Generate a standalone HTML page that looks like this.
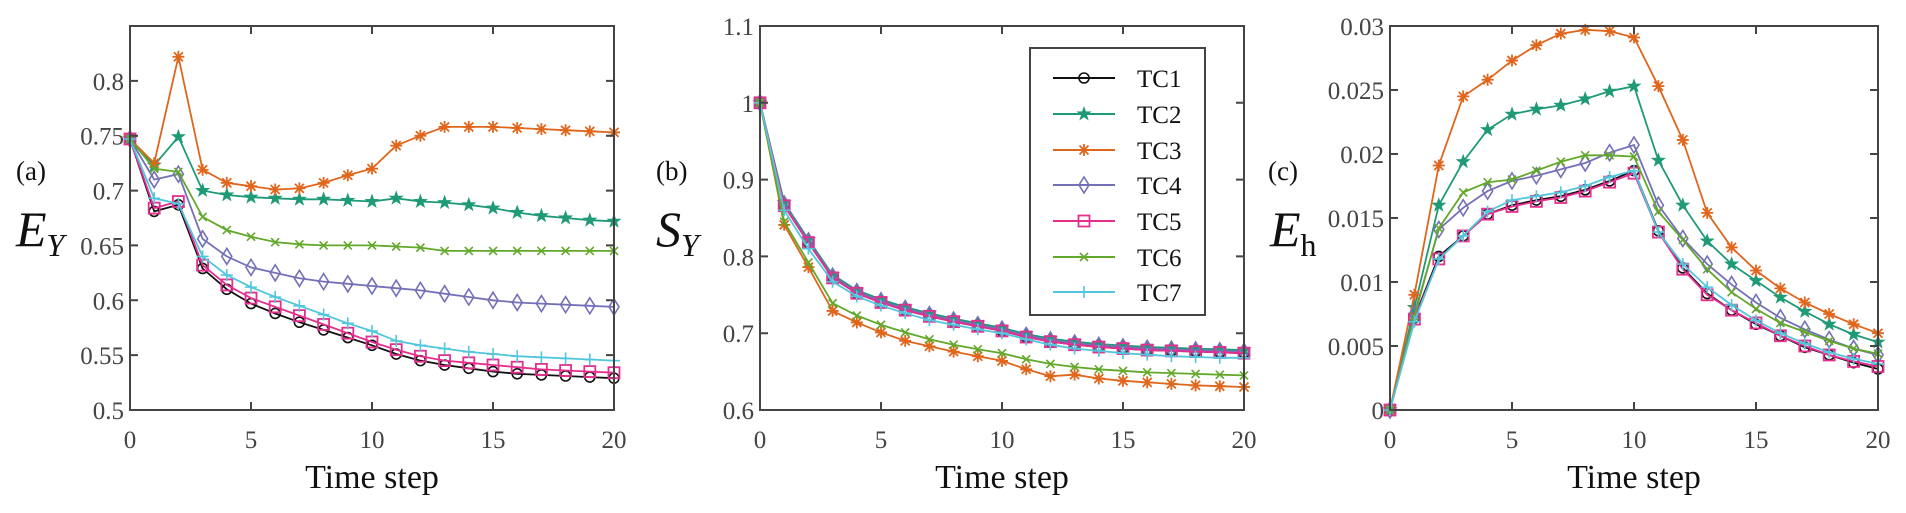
<!DOCTYPE html>
<html><head><meta charset="utf-8"><style>
html,body{margin:0;padding:0;background:#fff;}
svg{display:block;}
text{font-family:"Liberation Serif",serif;}
</style></head><body>
<svg id="s" width="1906" height="513" xmlns="http://www.w3.org/2000/svg"></svg>
<script>
const S=document.getElementById('s');let h='';
const col={1:'#111',2:'#1f9a76',3:'#e0661c',4:'#7470b8',5:'#e52f8f',6:'#62a82a',7:'#52c6dc'};
const panels=[
{x0:130,x1:614,ymin:0.5,ymax:0.85,ticks:[0.5,0.55,0.6,0.65,0.7,0.75,0.8],lab:['0.5','0.55','0.6','0.65','0.7','0.75','0.8'],
 data:{
3:[0.747,0.725,0.822,0.719,0.707,0.704,0.701,0.702,0.707,0.714,0.720,0.741,0.750,0.758,0.758,0.758,0.757,0.756,0.755,0.754,0.753],
2:[0.747,0.723,0.749,0.700,0.696,0.694,0.693,0.692,0.692,0.691,0.690,0.693,0.690,0.689,0.687,0.684,0.680,0.677,0.675,0.673,0.672],
6:[0.747,0.720,0.717,0.676,0.664,0.658,0.653,0.651,0.650,0.650,0.650,0.649,0.648,0.645,0.645,0.645,0.645,0.645,0.645,0.645,0.645],
4:[0.747,0.710,0.715,0.656,0.640,0.630,0.625,0.620,0.617,0.615,0.613,0.611,0.609,0.606,0.603,0.600,0.598,0.597,0.596,0.595,0.594],
7:[0.747,0.693,0.688,0.640,0.623,0.612,0.603,0.595,0.587,0.579,0.572,0.563,0.559,0.556,0.553,0.551,0.549,0.548,0.547,0.546,0.545],
1:[0.747,0.681,0.687,0.629,0.610,0.597,0.588,0.580,0.573,0.566,0.559,0.551,0.545,0.541,0.538,0.535,0.533,0.532,0.531,0.530,0.529],
5:[0.747,0.684,0.690,0.632,0.614,0.602,0.594,0.586,0.578,0.570,0.562,0.555,0.549,0.545,0.543,0.541,0.539,0.537,0.536,0.535,0.534]}},
{x0:760,x1:1244,ymin:0.6,ymax:1.1,ticks:[0.6,0.7,0.8,0.9,1,1.1],lab:['0.6','0.7','0.8','0.9','1','1.1'],data:{}},
{x0:1390,x1:1878,ymin:0,ymax:0.03,ticks:[0,0.005,0.01,0.015,0.02,0.025,0.03],lab:['0','0.005','0.01','0.015','0.02','0.025','0.03'],data:{}}];
const base=[1,0.866,0.818,0.772,0.752,0.740,0.730,0.722,0.715,0.709,0.703,0.695,0.689,0.685,0.682,0.680,0.678,0.677,0.676,0.675,0.674];
const b=panels[1].data;
b[3]=[1,0.841,0.786,0.729,0.714,0.701,0.690,0.683,0.676,0.670,0.664,0.653,0.644,0.646,0.641,0.638,0.636,0.634,0.632,0.631,0.630];
b[6]=[1,0.845,0.792,0.739,0.723,0.711,0.701,0.692,0.685,0.679,0.674,0.666,0.660,0.656,0.653,0.651,0.649,0.648,0.647,0.646,0.645];
b[2]=base.map((v,i)=>i?v+0.004:v);b[4]=base.map((v,i)=>i?v+0.002:v);b[1]=base.slice();
b[7]=[1,0.860,0.810,0.767,0.748,0.736,0.726,0.717,0.711,0.705,0.700,0.692,0.685,0.680,0.677,0.674,0.672,0.670,0.669,0.668,0.668];
b[5]=base.slice();
const c=panels[2].data,m=a=>a.map(v=>v/1000);
c[3]=m([0,9.0,19.1,24.5,25.8,27.3,28.5,29.4,29.7,29.6,29.1,25.3,21.1,15.4,12.7,10.9,9.5,8.4,7.5,6.7,6.0]);
c[2]=m([0,8.0,16.0,19.4,21.9,23.1,23.5,23.8,24.3,24.9,25.3,19.5,16.0,13.2,11.4,10.1,8.8,7.7,6.7,5.9,5.3]);
c[4]=m([0,7.5,14.1,15.8,17.1,17.9,18.3,18.8,19.3,20.1,20.7,16.0,13.4,11.4,9.8,8.4,7.2,6.3,5.5,4.8,4.3]);
c[6]=m([0,7.3,14.2,17.0,17.8,18.0,18.7,19.4,19.9,19.9,19.8,15.5,13.3,11.0,9.2,7.9,6.8,6.1,5.4,4.8,4.4]);
c[1]=m([0,7.2,12.0,13.6,15.3,16.0,16.4,16.7,17.2,17.9,18.7,14.0,11.1,9.1,7.8,6.7,5.8,4.9,4.3,3.7,3.2]);
c[7]=m([0,6.9,11.8,13.6,15.5,16.4,16.7,17.0,17.5,18.2,18.7,13.9,11.4,9.6,8.2,7.0,6.0,5.2,4.5,4.0,3.6]);
c[5]=m([0,7.1,11.8,13.6,15.3,15.9,16.3,16.6,17.1,17.8,18.5,13.9,11.0,9.0,7.8,6.8,5.8,5.0,4.3,3.8,3.4]);
function mk(k,x,y){const C=col[k];
 switch(+k){
 case 1:return `<circle cx="${x}" cy="${y}" r="5" fill="none" stroke="${C}" stroke-width="1.6"/>`;
 case 2:{let p=[];for(let i=0;i<10;i++){const r=i%2?3.2:8,a=-Math.PI/2+i*Math.PI/5;p.push((x+r*Math.cos(a)).toFixed(1)+','+(y+r*Math.sin(a)).toFixed(1));}return `<polygon points="${p.join(' ')}" fill="${C}"/>`;}
 case 3:return `<path d="M${x-6} ${y}h12M${x} ${y-6}v12M${x-4.5} ${y-4.5}l9 9M${x-4.5} ${y+4.5}l9 -9" stroke="${C}" stroke-width="1.8"/>`;
 case 4:return `<path d="M${x} ${y-8}L${x+5} ${y}L${x} ${y+8}L${x-5} ${y}Z" fill="none" stroke="${C}" stroke-width="1.6"/>`;
 case 5:return `<rect x="${x-5.5}" y="${y-5.5}" width="11" height="11" fill="none" stroke="${C}" stroke-width="1.8"/>`;
 case 6:return `<path d="M${x-4} ${y-4}l8 8M${x-4} ${y+4}l8 -8" stroke="${C}" stroke-width="1.6"/>`;
 case 7:return `<path d="M${x-6} ${y}h12M${x} ${y-6}v12" stroke="${C}" stroke-width="1.6"/>`;}}
const Y0=410,Y1=26;
panels.forEach((p,pi)=>{
 const X=i=>p.x0+(p.x1-p.x0)*i/20, Yv=v=>Y0-(v-p.ymin)/(p.ymax-p.ymin)*(Y0-Y1);
 for(const k of [1,2,3,4,5,6,7]){const d=p.data[k];if(!d)continue;
  h+=`<polyline fill="none" stroke="${col[k]}" stroke-width="1.8" points="${d.map((v,i)=>X(i).toFixed(1)+','+Yv(v).toFixed(1)).join(' ')}"/>`;
  d.forEach((v,i)=>h+=mk(k,X(i),Yv(v)));}
 h+=`<rect x="${p.x0}" y="${Y1}" width="${p.x1-p.x0}" height="${Y0-Y1}" fill="none" stroke="#444" stroke-width="2"/>`;
 for(let i=0;i<=20;i+=5){const x=X(i);h+=`<path d="M${x} ${Y0}v-8M${x} ${Y1}v8" stroke="#444" stroke-width="2"/><text x="${x}" y="${Y0+38}" font-size="25" fill="#444" text-anchor="middle">${i}</text>`;}
 p.ticks.forEach((t,j)=>{const y=Yv(t);h+=`<path d="M${p.x0} ${y}h8M${p.x1} ${y}h-8" stroke="#444" stroke-width="2"/><text x="${p.x0-6}" y="${y+9}" font-size="25" fill="#444" text-anchor="end">${p.lab[j]}</text>`;});
 h+=`<text x="${(p.x0+p.x1)/2}" y="488" font-size="34" fill="#111" text-anchor="middle">Time step</text>`;
});
h+=`<text x="16" y="180" font-size="27" fill="#111">(a)</text><text x="656" y="180" font-size="27" fill="#111">(b)</text><text x="1268" y="180" font-size="27" fill="#111">(c)</text>`;
h+=`<text x="16" y="246" font-size="50" font-style="italic" fill="#111">E<tspan font-size="32" dy="10">Y</tspan></text>`;
h+=`<text x="656" y="246" font-size="50" font-style="italic" fill="#111">S<tspan font-size="32" dy="10">Y</tspan></text>`;
h+=`<text x="1270" y="246" font-size="50" font-style="italic" fill="#111">E<tspan font-size="32" font-style="normal" dy="10">h</tspan></text>`;
h+=`<rect x="1030" y="48" width="175" height="267" fill="#fff" stroke="#444" stroke-width="2"/>`;
[78,114,150,185,221,257,292].forEach((y,i)=>{const k=i+1;h+=`<path d="M1053 ${y}h62" stroke="${col[k]}" stroke-width="2"/>`+mk(k,1084,y)+`<text x="1137" y="${y+9}" font-size="25" fill="#111">TC${k}</text>`;});
S.innerHTML=h;
</script>
</body></html>
